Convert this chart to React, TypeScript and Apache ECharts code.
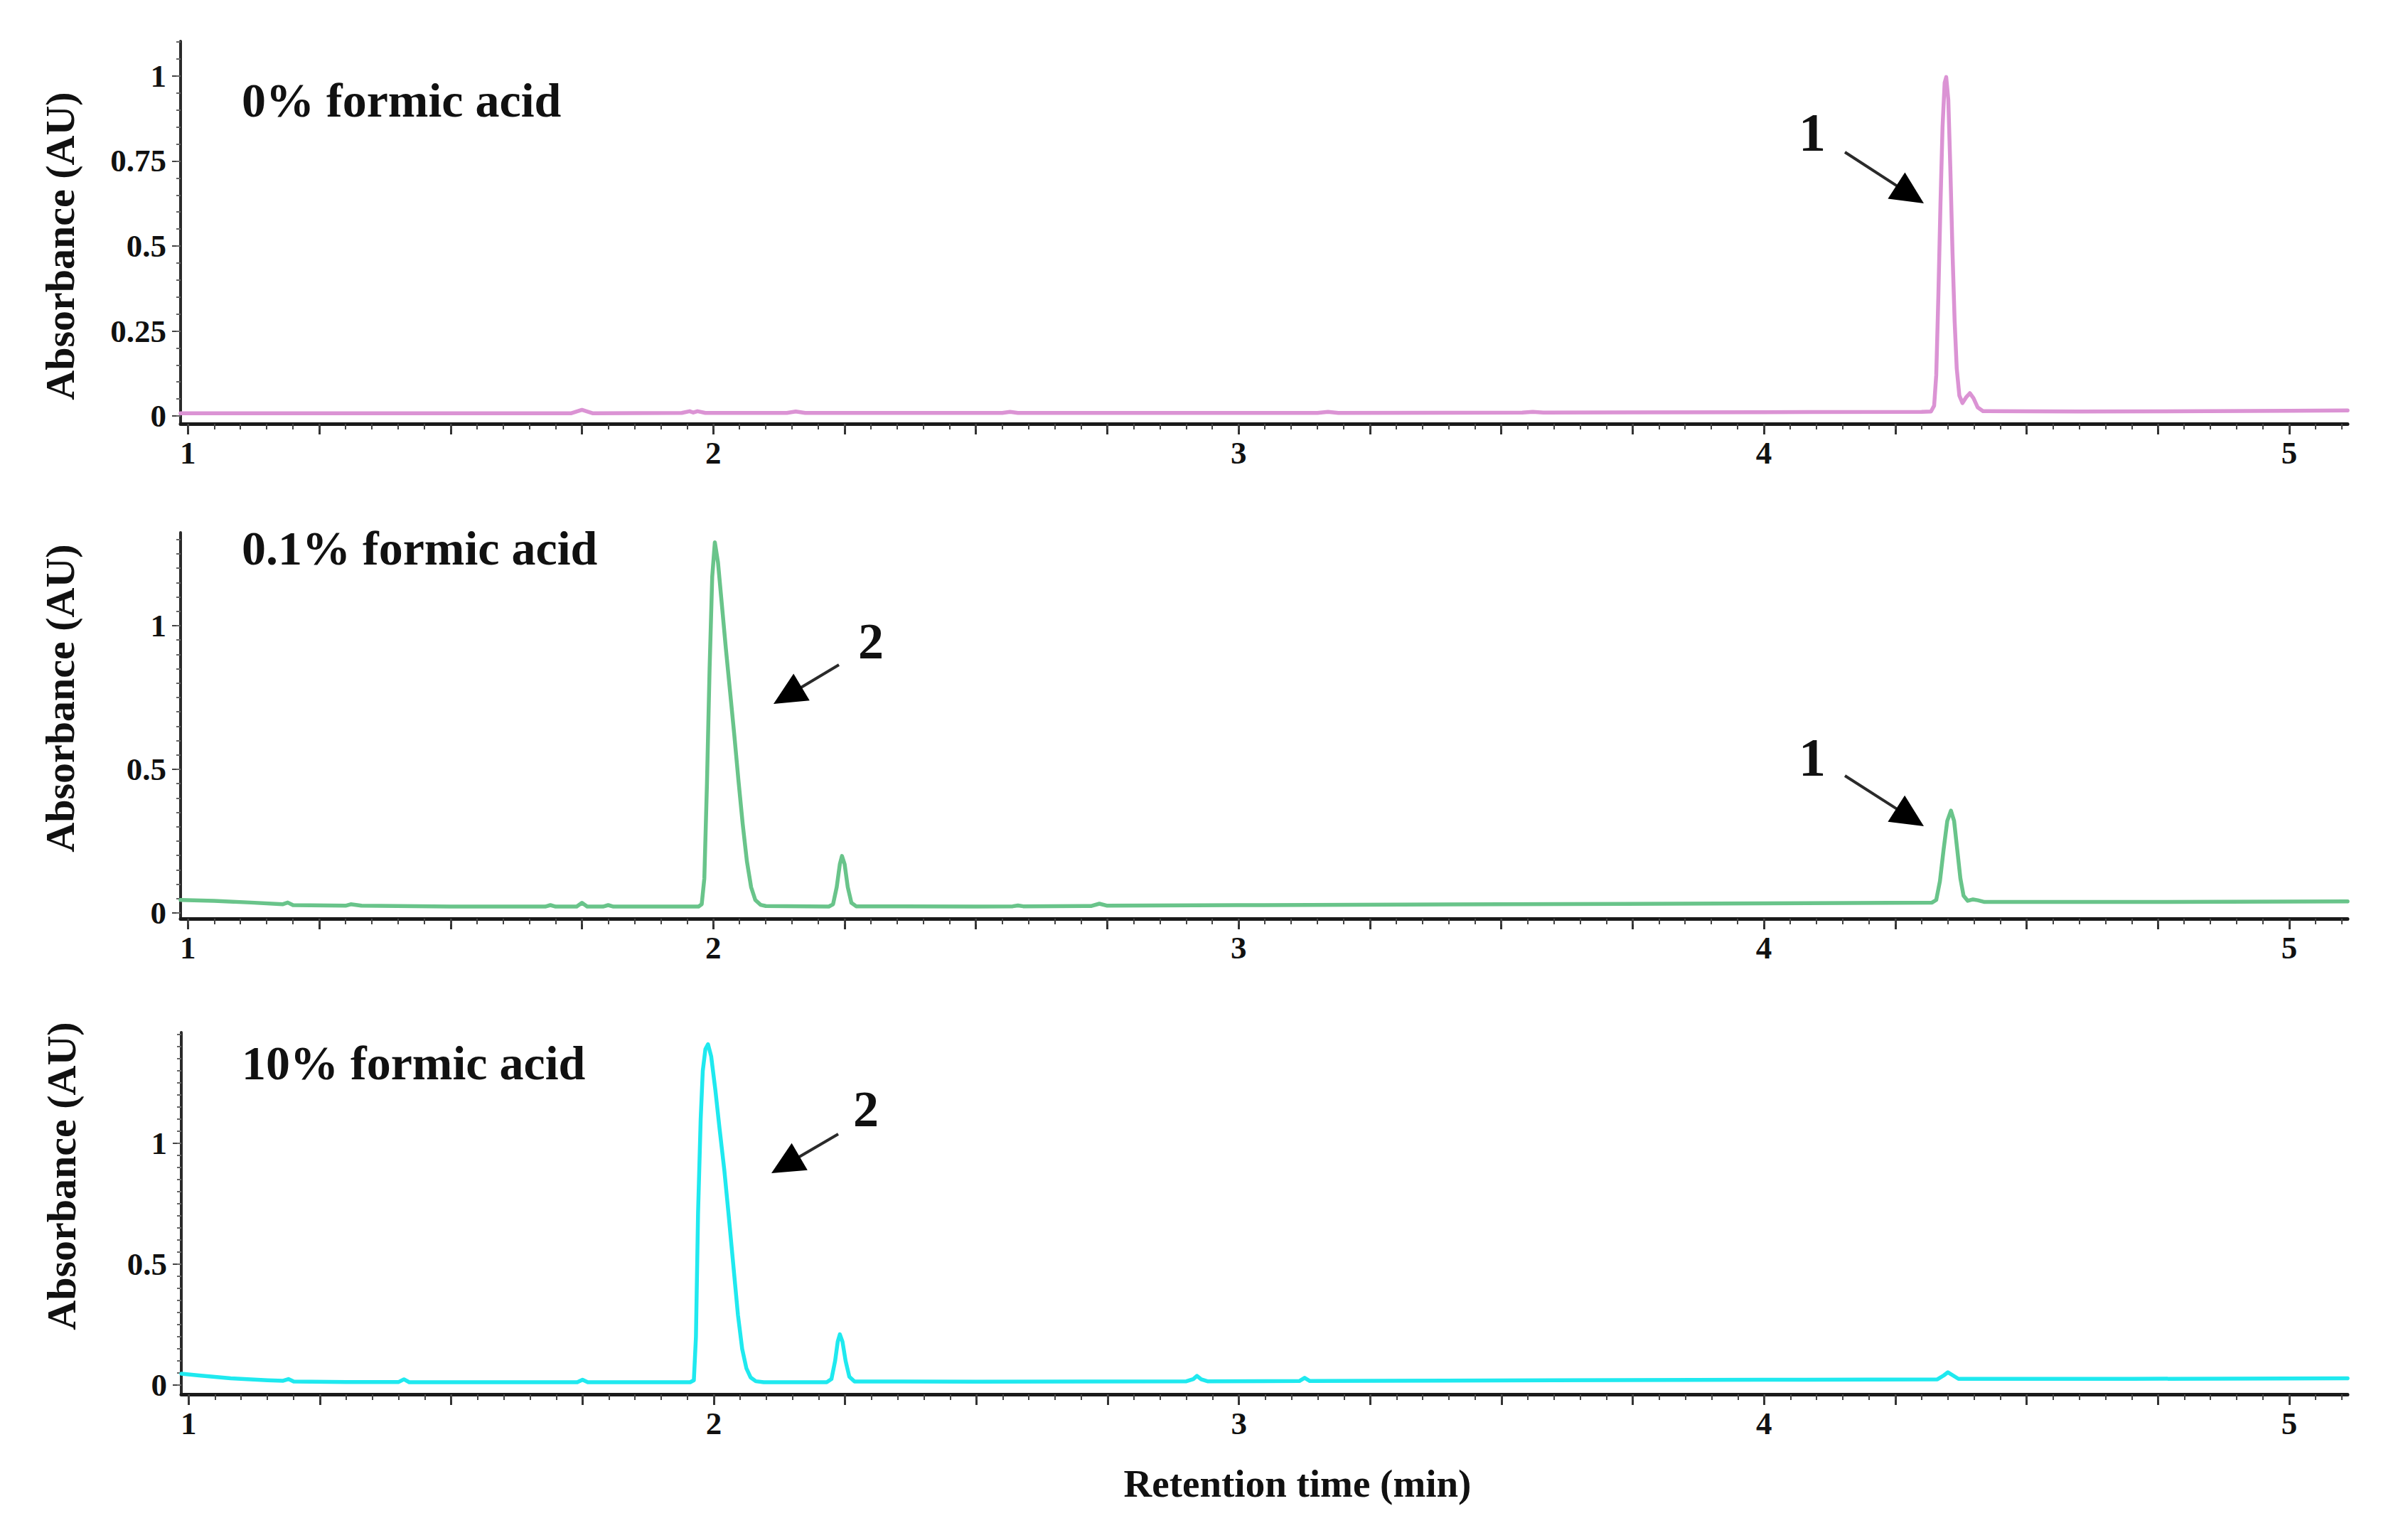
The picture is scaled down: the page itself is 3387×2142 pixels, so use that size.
import React, { useEffect, useRef } from "react";
import * as echarts from "echarts";

// ---------- axis settings ----------
const X_MIN = 0.986;
const X_MAX = 5.111;
const xLabelValues = [1, 2, 3, 4, 5];
const xMajorTicks = [1, 1.25, 1.5, 1.75, 2, 2.25, 2.5, 2.75, 3, 3.25, 3.5, 3.75, 4, 4.25, 4.5, 4.75, 5];

const y1Labels = [0, 0.25, 0.5, 0.75, 1];
const y2Labels = [0, 0.5, 1];
const y3Labels = [0, 0.5, 1];
const yRanges = [
  [-0.023, 1.1025],
  [-0.02, 1.324],
  [-0.038, 1.459],
];

const panelTitles = ["0% formic acid", "0.1% formic acid", "10% formic acid"];
const yTitle = "Absorbance (AU)";
const xTitle = "Retention time (min)";

// ---------- traces: [retention time (min), absorbance (AU)] ----------
const trace0pct = [
  [0.986, 0.008], [1.3, 0.008], [1.5, 0.008], [1.73, 0.008], [1.75, 0.018], [1.77, 0.008],
  [1.94, 0.009], [1.955, 0.014], [1.962, 0.01], [1.97, 0.014], [1.985, 0.009],
  [2.14, 0.009], [2.157, 0.013], [2.175, 0.009], [2.55, 0.009], [2.565, 0.012], [2.58, 0.009],
  [3.15, 0.009], [3.17, 0.012], [3.19, 0.009], [3.54, 0.01], [3.56, 0.012], [3.58, 0.01],
  [4.0, 0.011], [4.3, 0.012], [4.318, 0.013], [4.324, 0.03], [4.328, 0.12], [4.332, 0.35],
  [4.336, 0.62], [4.34, 0.85], [4.344, 0.98], [4.347, 0.997], [4.351, 0.93], [4.355, 0.72],
  [4.359, 0.48], [4.363, 0.28], [4.367, 0.14], [4.372, 0.06], [4.378, 0.038], [4.385, 0.055],
  [4.392, 0.067], [4.399, 0.052], [4.407, 0.025], [4.417, 0.014], [4.6, 0.013], [5.0, 0.015],
  [5.111, 0.016],
];

const trace01pct = [
  [0.986, 0.045], [1.05, 0.042], [1.12, 0.036], [1.18, 0.03], [1.19, 0.036], [1.2, 0.027],
  [1.3, 0.025], [1.31, 0.03], [1.33, 0.025], [1.5, 0.022], [1.68, 0.022], [1.69, 0.027],
  [1.7, 0.022], [1.74, 0.022], [1.75, 0.035], [1.76, 0.022], [1.79, 0.022], [1.8, 0.027],
  [1.81, 0.022], [1.972, 0.022], [1.978, 0.03], [1.983, 0.12], [1.988, 0.45], [1.993, 0.85],
  [1.998, 1.17], [2.003, 1.29], [2.009, 1.22], [2.016, 1.08], [2.024, 0.92], [2.032, 0.77],
  [2.04, 0.62], [2.048, 0.46], [2.056, 0.31], [2.064, 0.18], [2.072, 0.09], [2.08, 0.045],
  [2.09, 0.028], [2.1, 0.024], [2.22, 0.022], [2.228, 0.03], [2.235, 0.09], [2.241, 0.17],
  [2.245, 0.198], [2.25, 0.17], [2.256, 0.09], [2.263, 0.035], [2.272, 0.023], [2.5, 0.022],
  [2.57, 0.023], [2.58, 0.026], [2.59, 0.023], [2.72, 0.024], [2.735, 0.032], [2.75, 0.025],
  [3.0, 0.027], [3.5, 0.03], [4.0, 0.033], [4.32, 0.036], [4.328, 0.045], [4.335, 0.11],
  [4.342, 0.22], [4.349, 0.32], [4.356, 0.356], [4.362, 0.32], [4.368, 0.22], [4.374, 0.12],
  [4.38, 0.06], [4.388, 0.042], [4.398, 0.047], [4.407, 0.044], [4.42, 0.038], [4.7, 0.038],
  [5.111, 0.04],
];

const trace10pct = [
  [0.986, 0.047], [1.02, 0.04], [1.08, 0.028], [1.15, 0.02], [1.18, 0.018], [1.19, 0.025],
  [1.2, 0.015], [1.3, 0.013], [1.4, 0.013], [1.41, 0.024], [1.42, 0.012], [1.6, 0.012],
  [1.74, 0.012], [1.75, 0.022], [1.76, 0.012], [1.955, 0.012], [1.962, 0.02], [1.966, 0.2],
  [1.97, 0.71], [1.975, 1.1], [1.979, 1.3], [1.984, 1.39], [1.989, 1.41], [1.995, 1.36],
  [2.003, 1.22], [2.011, 1.06], [2.02, 0.89], [2.028, 0.71], [2.037, 0.5], [2.046, 0.29],
  [2.054, 0.15], [2.062, 0.07], [2.07, 0.032], [2.08, 0.016], [2.095, 0.012], [2.215, 0.012],
  [2.224, 0.025], [2.231, 0.1], [2.236, 0.18], [2.24, 0.21], [2.245, 0.18], [2.251, 0.1],
  [2.258, 0.035], [2.268, 0.015], [2.5, 0.014], [2.9, 0.016], [2.913, 0.025], [2.92, 0.038],
  [2.928, 0.024], [2.94, 0.016], [3.115, 0.017], [3.125, 0.03], [3.135, 0.017], [3.6, 0.02],
  [4.0, 0.022], [4.33, 0.024], [4.342, 0.04], [4.35, 0.053], [4.358, 0.042], [4.37, 0.026],
  [4.7, 0.026], [5.111, 0.028],
];

const traceColors = ["#db93d4", "#69c48a", "#1fe9ef"];

// ---------- layout (pixels) ----------
const grids = [
  { left: 254, top: 58, width: 3048, height: 538 },
  { left: 254, top: 749, width: 3048, height: 543 },
  { left: 255, top: 1452, width: 3047, height: 509 },
];

const FONT = "'Liberation Serif', 'DejaVu Serif', serif";

function stepTicks(from: number, to: number, step: number) {
  const out: number[] = [];
  const n = Math.round((to - from) / step);
  for (let i = 0; i <= n; i++) out.push(Math.round((from + i * step) * 1000) / 1000);
  return out;
}

function arrow(tail: number[], tip: number[], headLen = 46, headW = 44) {
  const dx = tip[0] - tail[0];
  const dy = tip[1] - tail[1];
  const L = Math.hypot(dx, dy);
  const ux = dx / L;
  const uy = dy / L;
  const bx = tip[0] - ux * (headLen - 4);
  const by = tip[1] - uy * (headLen - 4);
  const hx = tip[0] - ux * headLen;
  const hy = tip[1] - uy * headLen;
  const px = (-uy * headW) / 2;
  const py = (ux * headW) / 2;
  return [
    {
      type: "line",
      z: 100,
      shape: { x1: tail[0], y1: tail[1], x2: bx, y2: by },
      style: { stroke: "#2a2a2a", lineWidth: 4 },
    },
    {
      type: "polygon",
      z: 100,
      shape: { points: [[tip[0], tip[1]], [hx + px, hy + py], [hx - px, hy - py]] },
      style: { fill: "#000" },
    },
  ];
}

function text(t: string, x: number, y: number, size: number, extra: any = {}) {
  return {
    type: "text",
    z: 100,
    x,
    y,
    ...extra,
    style: {
      text: t,
      fontFamily: FONT,
      fontSize: size,
      fontWeight: "bold",
      fill: "#111",
      align: extra.align || "center",
      verticalAlign: "middle",
    },
  };
}

export default function App() {
  const ref = useRef<HTMLDivElement>(null);

  useEffect(() => {
    if (!ref.current) return;
    const chart = echarts.init(ref.current, undefined, { renderer: "svg" });

    const xMinor = stepTicks(1, 5.1, 0.05);
    const yLabelSets = [y1Labels, y2Labels, y3Labels];
    const yMinorSets = [stepTicks(0, 1.1, 0.05), stepTicks(0, 1.3, 0.05), stepTicks(0, 1.45, 0.05)];
    const traces = [trace0pct, trace01pct, trace10pct];

    const xAxis: any[] = [];
    const yAxis: any[] = [];
    const series: any[] = [];

    grids.forEach((g, i) => {
      xAxis.push({
        type: "value",
        gridIndex: i,
        min: X_MIN,
        max: X_MAX,
        position: "bottom",
        axisLine: { show: true, onZero: false, lineStyle: { color: "#1a1a1a", width: 5 } },
        axisTick: { show: true, customValues: xMajorTicks, length: 15, lineStyle: { color: "#333", width: 3 } },
        axisLabel: {
          show: true,
          customValues: xLabelValues,
          margin: 18,
          fontFamily: FONT,
          fontWeight: "bold",
          fontSize: 45,
          color: "#111",
        },
        splitLine: { show: false },
      });
      xAxis.push({
        type: "value",
        gridIndex: i,
        min: X_MIN,
        max: X_MAX,
        position: "bottom",
        axisLine: { show: false, onZero: false },
        axisTick: { show: true, customValues: xMinor, length: 8, lineStyle: { color: "#444", width: 2 } },
        axisLabel: { show: false },
        splitLine: { show: false },
      });
      yAxis.push({
        type: "value",
        gridIndex: i,
        min: yRanges[i][0],
        max: yRanges[i][1],
        position: "left",
        axisLine: { show: true, onZero: false, lineStyle: { color: "#2a2a2a", width: 4 } },
        axisTick: { show: true, customValues: yLabelSets[i], length: 12, lineStyle: { color: "#444", width: 2 } },
        axisLabel: {
          show: true,
          customValues: yLabelSets[i],
          margin: 20,
          fontFamily: FONT,
          fontWeight: "bold",
          fontSize: 45,
          color: "#111",
        },
        splitLine: { show: false },
      });
      yAxis.push({
        type: "value",
        gridIndex: i,
        min: yRanges[i][0],
        max: yRanges[i][1],
        position: "left",
        axisLine: { show: false, onZero: false },
        axisTick: { show: true, customValues: yMinorSets[i], length: 6, lineStyle: { color: "#666", width: 2 } },
        axisLabel: { show: false },
        splitLine: { show: false },
      });
      series.push({
        type: "line",
        name: panelTitles[i],
        xAxisIndex: 2 * i,
        yAxisIndex: 2 * i,
        data: traces[i],
        showSymbol: false,
        symbol: "none",
        smooth: false,
        lineStyle: { color: traceColors[i], width: 5.5, join: "round", cap: "round" },
        clip: true,
        z: 3,
      });
    });

    const graphic: any[] = [
      text(panelTitles[0], 340, 141, 68, { align: "left" }),
      text(panelTitles[1], 340, 771, 68, { align: "left" }),
      text(panelTitles[2], 340, 1495, 68, { align: "left" }),
      text(yTitle, 84, 346, 58, { rotation: Math.PI / 2 }),
      text(yTitle, 84, 982, 58, { rotation: Math.PI / 2 }),
      text(yTitle, 86, 1654, 58, { rotation: Math.PI / 2 }),
      text(xTitle, 1825, 2086, 55),
      text("1", 2549, 186, 76),
      text("1", 2549, 1065, 76),
      text("2", 1225, 902, 72),
      text("2", 1218, 1560, 72),
      ...arrow([2595, 214], [2706, 286]),
      ...arrow([2595, 1091], [2706, 1162]),
      ...arrow([1180, 935], [1088, 990]),
      ...arrow([1179, 1595], [1085, 1650]),
    ];

    chart.setOption({
      animation: false,
      backgroundColor: "#ffffff",
      grid: grids.map((g) => ({ ...g, containLabel: false })),
      xAxis,
      yAxis,
      series,
      graphic,
    });

    return () => chart.dispose();
  }, []);

  return (
    <div
      ref={ref}
      style={{ position: "absolute", left: 0, top: 0, width: 3387, height: 2142, background: "#fff" }}
    />
  );
}
